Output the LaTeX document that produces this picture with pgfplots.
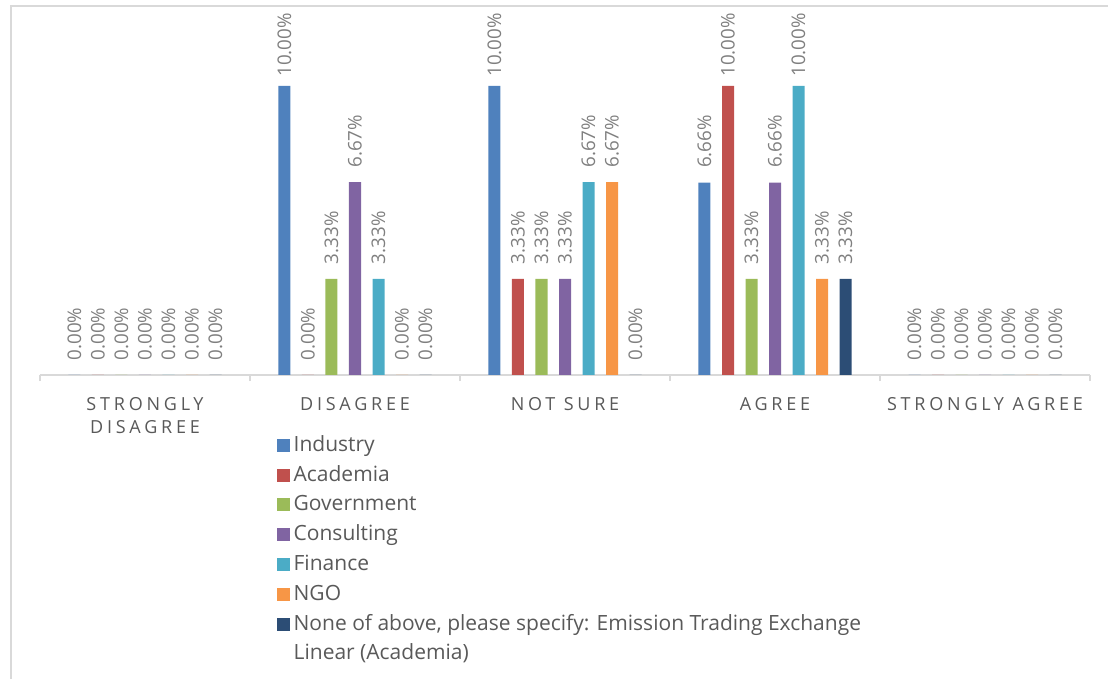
\documentclass[border=0pt]{standalone}
\usepackage{pgfplots}
\pgfplotsset{compat=1.18}
\usepackage{fontspec}
\setmainfont{Open Sans}
\newfontfamily\catfont[LetterSpace=21]{Open Sans}
\definecolor{c1}{HTML}{4F81BD}
\definecolor{c2}{HTML}{C0504D}
\definecolor{c3}{HTML}{9BBB59}
\definecolor{c4}{HTML}{8064A2}
\definecolor{c5}{HTML}{4BACC6}
\definecolor{c6}{HTML}{F79646}
\definecolor{c7}{HTML}{2C4D75}
\definecolor{lblgray}{HTML}{7F7F7F}
\definecolor{txtgray}{HTML}{595959}
\definecolor{linegray}{HTML}{D9D9D9}
\pgfplotsset{sq/.style={fill=#1, draw=none, legend image code/.code={\fill[#1] (0pt,-3.25pt) rectangle (6.5pt,3.25pt);}}}
\begin{document}
\begin{tikzpicture}
\begin{axis}[
  at={(0,0)}, anchor=south west,
  scale only axis, width=525pt, height=173.4pt,
  xmin=0, xmax=5, ymin=0, ymax=12,
  ybar, bar width=6pt,
  axis x line*=bottom, axis y line=none,
  x axis line style={-, draw=linegray, line width=0.75pt},
  xtick={0.5,1.5,2.5,3.5,4.5},
  xticklabels={STRONGLY\\DISAGREE, DISAGREE, NOT SURE, AGREE, STRONGLY AGREE},
  xticklabel style={font=\catfont\fontsize{9}{11.5}\selectfont, text=txtgray, align=center, yshift=-3.5pt},
  major x tick style={draw=none},
  minor xtick={0,1,2,3,4,5},
  minor x tick style={draw=linegray, line width=0.75pt},
  minor tick length=3pt, tick align=outside,
  ytick=\empty,
  clip=false,
  nodes near coords={\pgfmathprintnumber[fixed,fixed zerofill,precision=2]{\pgfplotspointmeta}\%},
  /pgf/number format/assume math mode=true,
  every node near coord/.append style={font=\fontsize{9.4}{11}\selectfont, text=lblgray, yshift=20.5pt, rotate=90, anchor=center},
  legend style={at={(axis description cs:0.225,-0.1614)}, anchor=north west, draw=none, fill=none,
    font=\fontsize{10.5}{12.5}\selectfont, text=txtgray, row sep=0.9pt, inner sep=0pt,
    nodes={inner sep=2pt, text height=8pt, text depth=2pt}},
  legend cell align=left,
]
\addplot[sq=c1, bar shift=-35.25pt] coordinates {(0.5,0) (1.5,10) (2.5,10) (3.5,6.66) (4.5,0)};
\addlegendentry{Industry}
\addplot[sq=c2, bar shift=-23.5pt] coordinates {(0.5,0) (1.5,0) (2.5,3.33) (3.5,10) (4.5,0)};
\addlegendentry{Academia}
\addplot[sq=c3, bar shift=-11.75pt] coordinates {(0.5,0) (1.5,3.33) (2.5,3.33) (3.5,3.33) (4.5,0)};
\addlegendentry{Government}
\addplot[sq=c4, bar shift=0pt] coordinates {(0.5,0) (1.5,6.67) (2.5,3.33) (3.5,6.66) (4.5,0)};
\addlegendentry{Consulting}
\addplot[sq=c5, bar shift=11.75pt] coordinates {(0.5,0) (1.5,3.33) (2.5,6.67) (3.5,10) (4.5,0)};
\addlegendentry{Finance}
\addplot[sq=c6, bar shift=23.5pt] coordinates {(0.5,0) (1.5,0) (2.5,6.67) (3.5,3.33) (4.5,0)};
\addlegendentry{NGO}
\addplot[sq=c7, bar shift=35.25pt] coordinates {(0.5,0) (1.5,0) (2.5,0) (3.5,3.33) (4.5,0)};
\addlegendentry{None of above, please specify: Emission Trading Exchange}
\addlegendimage{empty legend}
\addlegendentry{Linear (Academia)}
\end{axis}
\draw[linegray, line width=1pt] (-14.5pt,-152pt) -- (-14.5pt,184.5pt) -- (534pt,184.5pt);
\pgfresetboundingbox
\useasboundingbox (-20pt,-152pt) rectangle (534pt,187.5pt);
\end{tikzpicture}
\end{document}
